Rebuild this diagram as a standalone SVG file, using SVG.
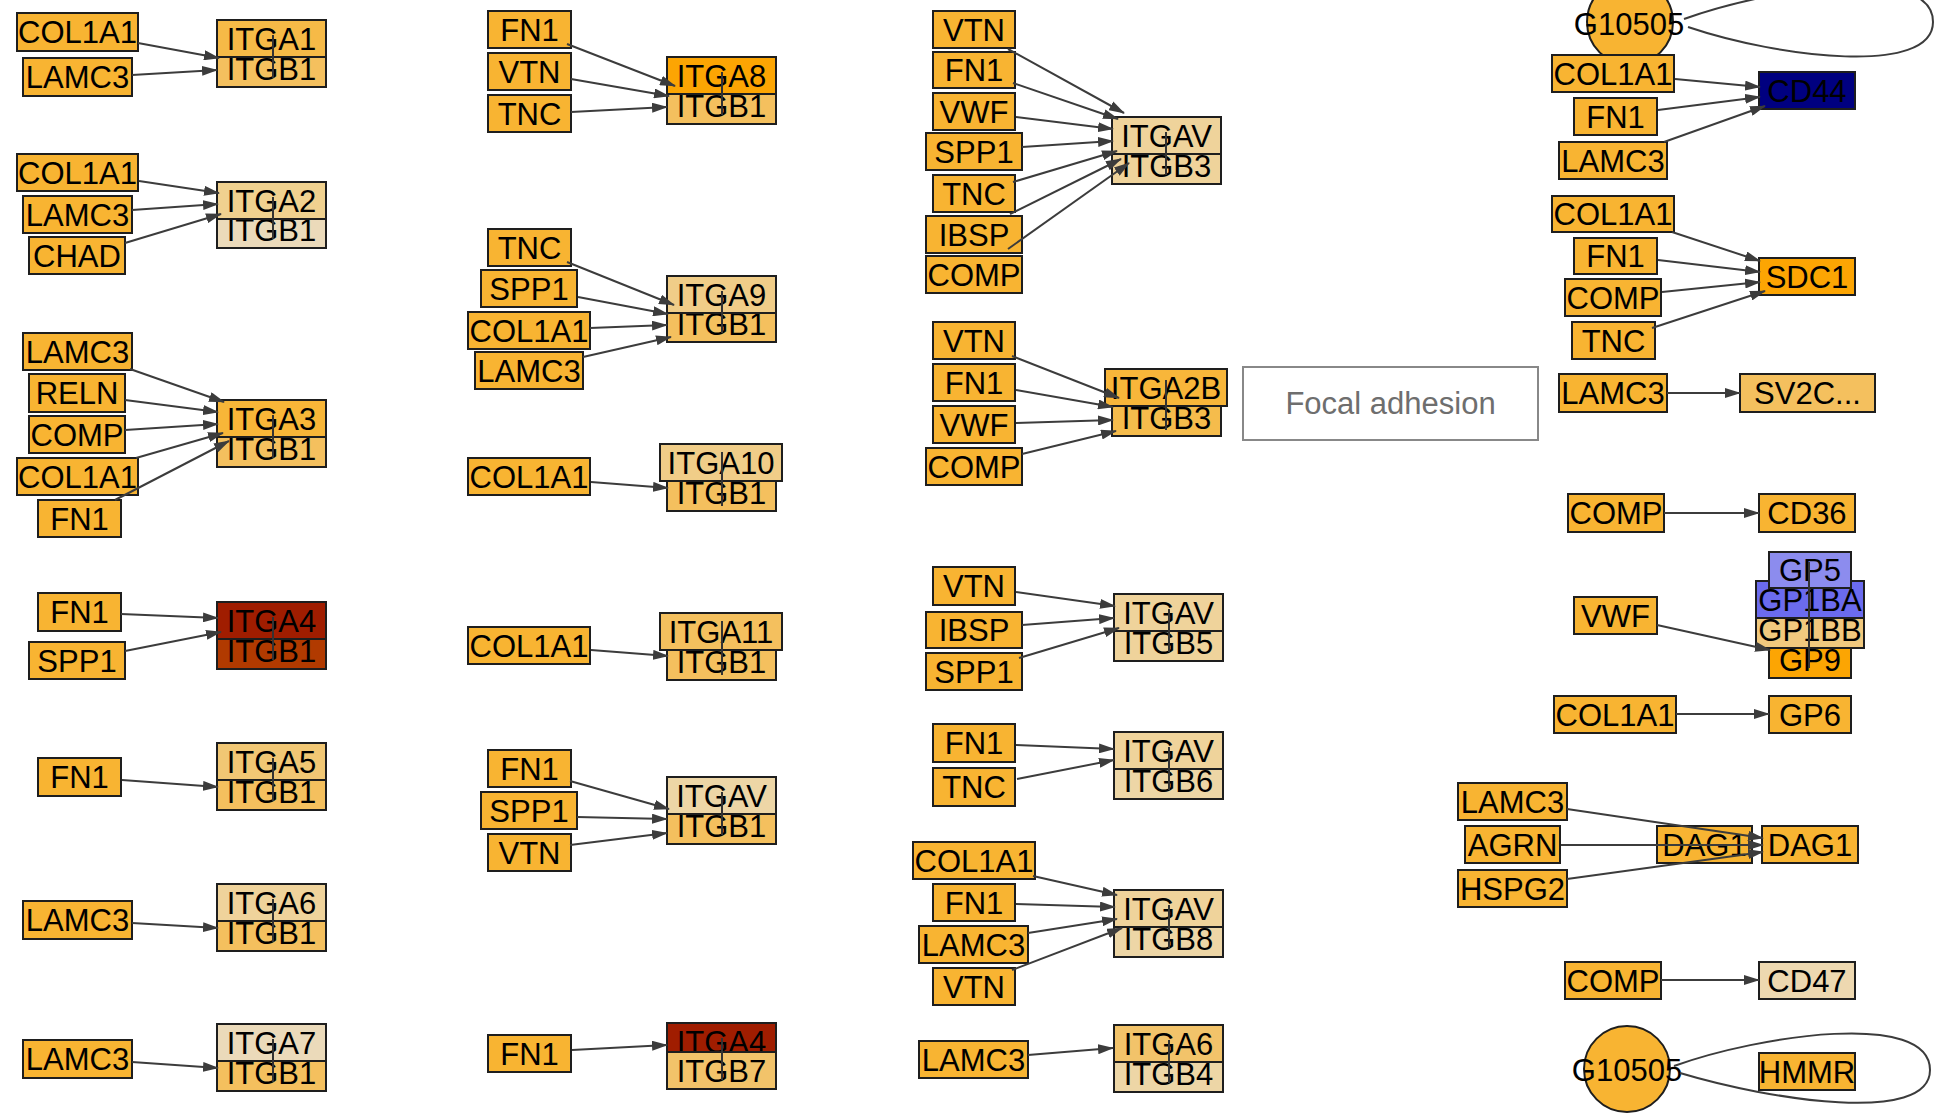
<svg xmlns="http://www.w3.org/2000/svg" width="1940" height="1119" viewBox="0 0 1940 1119">
<style>
.n rect{stroke:#1e1e1e;stroke-width:2}
text{font-family:"Liberation Sans",Arial,sans-serif;font-size:31px;text-anchor:middle;fill:#000}
.s{fill:#F8B432}.o{fill:#FCA503}.l1{fill:#F4C05E}.l2{fill:#F0CD88}.l3{fill:#EFD39B}.l4{fill:#EDD6A6}.l5{fill:#EBDABA}
.e path,.e line{stroke:#3c3c3c;stroke-width:2;fill:none}
.e line.a{marker-end:url(#ah)}
.in line{stroke:#333;stroke-width:2}
</style>
<defs>
<marker id="ah" markerUnits="userSpaceOnUse" markerWidth="16" markerHeight="10" refX="15" refY="5" orient="auto"><path d="M0,0 L16,5 L0,10 z" fill="#3c3c3c"/></marker>
</defs>
<rect width="1940" height="1119" fill="#fff"/>

<g class="n">
<!-- Column 1 -->
<g id="g1-COL1A1"><rect class="s" x="17" y="13" width="121" height="38"/><text x="77.5" y="43">COL1A1</text></g>
<g id="g1-LAMC3"><rect class="s" x="23" y="58" width="109" height="38"/><text x="77.5" y="88">LAMC3</text></g>
<g id="g1-ITGA1-ITGB1"><rect class="l1" x="217" y="50" width="109" height="37"/><text x="271.5" y="80">ITGB1</text><rect style="fill:#F6BA47" x="217" y="20" width="109" height="37"/><text x="271.5" y="49.5">ITGA1</text></g>

<g id="g2-COL1A1"><rect class="s" x="17" y="154" width="121" height="37"/><text x="77.5" y="183.5">COL1A1</text></g>
<g id="g2-LAMC3"><rect class="s" x="23" y="196" width="109" height="37"/><text x="77.5" y="225.5">LAMC3</text></g>
<g id="g2-CHAD"><rect class="s" x="29" y="237" width="96" height="37"/><text x="77" y="266.5">CHAD</text></g>
<g id="g2-ITGA2-ITGB1"><rect class="l5" x="217" y="211" width="109" height="37"/><text x="271.5" y="241">ITGB1</text><rect style="fill:#F0D18F" x="217" y="182" width="109" height="37"/><text x="271.5" y="211.5">ITGA2</text></g>

<g id="g3-LAMC3"><rect class="s" x="23" y="333" width="109" height="37"/><text x="77.5" y="362.5">LAMC3</text></g>
<g id="g3-RELN"><rect class="s" x="29" y="374" width="96" height="38"/><text x="77" y="404">RELN</text></g>
<g id="g3-COMP"><rect class="s" x="29" y="416" width="96" height="37"/><text x="77" y="445.5">COMP</text></g>
<g id="g3-COL1A1"><rect class="s" x="17" y="458" width="121" height="37"/><text x="77.5" y="487.5">COL1A1</text></g>
<g id="g3-FN1"><rect class="s" x="38" y="500" width="83" height="37"/><text x="79.5" y="529.5">FN1</text></g>
<g id="g3-ITGA3-ITGB1"><rect class="l1" x="217" y="430" width="109" height="37"/><text x="271.5" y="460">ITGB1</text><rect style="fill:#F8B638" x="217" y="400" width="109" height="37"/><text x="271.5" y="429.5">ITGA3</text></g>

<g id="g4-FN1"><rect class="s" x="38" y="593" width="83" height="38"/><text x="79.5" y="623">FN1</text></g>
<g id="g4-SPP1"><rect class="s" x="29" y="642" width="96" height="37"/><text x="77" y="671.5">SPP1</text></g>
<g id="g4-ITGA4-ITGB1"><rect style="fill:#B13A00" x="217" y="632" width="109" height="37"/><text x="271.5" y="662">ITGB1</text><rect style="fill:#A01D00" x="217" y="602" width="109" height="37"/><text x="271.5" y="631.5">ITGA4</text></g>

<g id="g5-FN1"><rect class="s" x="38" y="758" width="83" height="38"/><text x="79.5" y="788">FN1</text></g>
<g id="g5-ITGA5-ITGB1"><rect class="l1" x="217" y="773" width="109" height="37"/><text x="271.5" y="803">ITGB1</text><rect style="fill:#F1C774" x="217" y="743" width="109" height="37"/><text x="271.5" y="772.5">ITGA5</text></g>

<g id="g6-LAMC3"><rect class="s" x="23" y="901" width="109" height="38"/><text x="77.5" y="931">LAMC3</text></g>
<g id="g6-ITGA6-ITGB1"><rect class="l1" x="217" y="914" width="109" height="37"/><text x="271.5" y="944">ITGB1</text><rect class="l3" x="217" y="884" width="109" height="37"/><text x="271.5" y="913.5">ITGA6</text></g>

<g id="g7-LAMC3"><rect class="s" x="23" y="1040" width="109" height="38"/><text x="77.5" y="1070">LAMC3</text></g>
<g id="g7-ITGA7-ITGB1"><rect class="l1" x="217" y="1054" width="109" height="37"/><text x="271.5" y="1084">ITGB1</text><rect class="l5" x="217" y="1024" width="109" height="37"/><text x="271.5" y="1053.5">ITGA7</text></g>

<!-- Column 2 -->
<g id="g8-FN1"><rect class="s" x="488" y="11" width="83" height="37"/><text x="529.5" y="40.5">FN1</text></g>
<g id="g8-VTN"><rect class="s" x="488" y="53" width="83" height="37"/><text x="529.5" y="82.5">VTN</text></g>
<g id="g8-TNC"><rect class="s" x="488" y="95" width="83" height="37"/><text x="529.5" y="124.5">TNC</text></g>
<g id="g8-ITGA8-ITGB1"><rect class="l1" x="667" y="87" width="109" height="37"/><text x="721.5" y="117">ITGB1</text><rect class="o" x="667" y="57" width="109" height="37"/><text x="721.5" y="86.5">ITGA8</text></g>

<g id="g9-TNC"><rect class="s" x="488" y="229" width="83" height="37"/><text x="529.5" y="258.5">TNC</text></g>
<g id="g9-SPP1"><rect class="s" x="481" y="270" width="96" height="37"/><text x="529" y="299.5">SPP1</text></g>
<g id="g9-COL1A1"><rect class="s" x="468" y="312" width="122" height="37"/><text x="529" y="341.5">COL1A1</text></g>
<g id="g9-LAMC3"><rect class="s" x="475" y="352" width="108" height="37"/><text x="529" y="381.5">LAMC3</text></g>
<g id="g9-ITGA9-ITGB1"><rect class="l1" x="667" y="305" width="109" height="37"/><text x="721.5" y="335">ITGB1</text><rect class="l2" x="667" y="276" width="109" height="37"/><text x="721.5" y="305.5">ITGA9</text></g>

<g id="g10-COL1A1"><rect class="s" x="468" y="458" width="122" height="37"/><text x="529" y="487.5">COL1A1</text></g>
<g id="g10-ITGA10-ITGB1"><rect class="l1" x="667" y="474" width="109" height="37"/><text x="721.5" y="504">ITGB1</text><rect class="l2" x="660" y="444" width="122" height="37"/><text x="721" y="473.5">ITGA10</text></g>

<g id="g11-COL1A1"><rect class="s" x="468" y="627" width="122" height="37"/><text x="529" y="656.5">COL1A1</text></g>
<g id="g11-ITGA11-ITGB1"><rect class="l1" x="667" y="643" width="109" height="37"/><text x="721.5" y="673">ITGB1</text><rect class="l1" x="660" y="613" width="122" height="37"/><text x="721" y="642.5">ITGA11</text></g>

<g id="g12-FN1"><rect class="s" x="488" y="750" width="83" height="37"/><text x="529.5" y="779.5">FN1</text></g>
<g id="g12-SPP1"><rect class="s" x="481" y="792" width="96" height="37"/><text x="529" y="821.5">SPP1</text></g>
<g id="g12-VTN"><rect class="s" x="488" y="834" width="83" height="37"/><text x="529.5" y="863.5">VTN</text></g>
<g id="g12-ITGAV-ITGB1"><rect class="l1" x="667" y="807" width="109" height="37"/><text x="721.5" y="837">ITGB1</text><rect class="l4" x="667" y="777" width="109" height="37"/><text x="721.5" y="806.5">ITGAV</text></g>

<g id="g13-FN1"><rect class="s" x="488" y="1035" width="83" height="37"/><text x="529.5" y="1064.5">FN1</text></g>
<g id="g13-ITGA4-ITGB7"><rect style="fill:#A01D00" x="667" y="1023" width="109" height="37"/><text x="721.5" y="1052.5">ITGA4</text><rect style="fill:#F2C36A" x="667" y="1052" width="109" height="37"/><text x="721.5" y="1082">ITGB7</text></g>

<!-- Column 3 -->
<g id="g14-VTN"><rect class="s" x="933" y="11" width="82" height="37"/><text x="974" y="40.5">VTN</text></g>
<g id="g14-FN1"><rect class="s" x="933" y="52" width="82" height="36"/><text x="974" y="81">FN1</text></g>
<g id="g14-VWF"><rect class="s" x="933" y="93" width="82" height="37"/><text x="974" y="122.5">VWF</text></g>
<g id="g14-SPP1"><rect class="s" x="926" y="133" width="96" height="37"/><text x="974" y="162.5">SPP1</text></g>
<g id="g14-TNC"><rect class="s" x="933" y="175" width="82" height="37"/><text x="974" y="204.5">TNC</text></g>
<g id="g14-IBSP"><rect class="s" x="926" y="216" width="96" height="37"/><text x="974" y="245.5">IBSP</text></g>
<g id="g14-COMP"><rect class="s" x="926" y="256" width="96" height="37"/><text x="974" y="285.5">COMP</text></g>
<g id="g14-ITGAV-ITGB3"><rect class="l3" x="1112" y="147" width="109" height="37"/><text x="1166.5" y="177">ITGB3</text><rect class="l3" x="1112" y="117" width="109" height="37"/><text x="1166.5" y="146.5">ITGAV</text></g>

<g id="g15-VTN"><rect class="s" x="933" y="322" width="82" height="37"/><text x="974" y="351.5">VTN</text></g>
<g id="g15-FN1"><rect class="s" x="933" y="364" width="82" height="37"/><text x="974" y="393.5">FN1</text></g>
<g id="g15-VWF"><rect class="s" x="933" y="406" width="82" height="37"/><text x="974" y="435.5">VWF</text></g>
<g id="g15-COMP"><rect class="s" x="926" y="448" width="96" height="37"/><text x="974" y="477.5">COMP</text></g>
<g id="g15-ITGA2B-ITGB3"><rect style="fill:#F5BC4C" x="1112" y="399" width="109" height="37"/><text x="1166.5" y="429">ITGB3</text><rect style="fill:#F8B63A" x="1105" y="369" width="122" height="37"/><text x="1166" y="398.5">ITGA2B</text></g>

<g id="g16-VTN"><rect class="s" x="933" y="567" width="82" height="38"/><text x="974" y="597">VTN</text></g>
<g id="g16-IBSP"><rect class="s" x="926" y="612" width="96" height="36"/><text x="974" y="641">IBSP</text></g>
<g id="g16-SPP1"><rect class="s" x="926" y="653" width="96" height="37"/><text x="974" y="682.5">SPP1</text></g>
<g id="g16-ITGAV-ITGB5"><rect class="l3" x="1114" y="624" width="109" height="37"/><text x="1168.5" y="654">ITGB5</text><rect class="l3" x="1114" y="594" width="109" height="37"/><text x="1168.5" y="623.5">ITGAV</text></g>

<g id="g17-FN1"><rect class="s" x="933" y="724" width="82" height="38"/><text x="974" y="754">FN1</text></g>
<g id="g17-TNC"><rect class="s" x="933" y="768" width="82" height="38"/><text x="974" y="798">TNC</text></g>
<g id="g17-ITGAV-ITGB6"><rect class="l4" x="1114" y="762" width="109" height="37"/><text x="1168.5" y="792">ITGB6</text><rect class="l3" x="1114" y="732" width="109" height="37"/><text x="1168.5" y="761.5">ITGAV</text></g>

<g id="g18-COL1A1"><rect class="s" x="913" y="842" width="122" height="37"/><text x="974" y="871.5">COL1A1</text></g>
<g id="g18-FN1"><rect class="s" x="933" y="884" width="82" height="37"/><text x="974" y="913.5">FN1</text></g>
<g id="g18-LAMC3"><rect class="s" x="919" y="926" width="109" height="37"/><text x="973.5" y="955.5">LAMC3</text></g>
<g id="g18-VTN"><rect class="s" x="933" y="968" width="82" height="37"/><text x="974" y="997.5">VTN</text></g>
<g id="g18-ITGAV-ITGB8"><rect class="l4" x="1114" y="920" width="109" height="37"/><text x="1168.5" y="950">ITGB8</text><rect class="l3" x="1114" y="890" width="109" height="37"/><text x="1168.5" y="919.5">ITGAV</text></g>

<g id="g19-LAMC3"><rect class="s" x="919" y="1041" width="109" height="37"/><text x="973.5" y="1070.5">LAMC3</text></g>
<g id="g19-ITGA6-ITGB4"><rect class="l4" x="1114" y="1055" width="109" height="37"/><text x="1168.5" y="1085">ITGB4</text><rect style="fill:#F2C36A" x="1114" y="1025" width="109" height="37"/><text x="1168.5" y="1054.5">ITGA6</text></g>

<!-- Column 4 -->
<g id="G10505-top"><circle cx="1630" cy="22" r="43" fill="#F8B432" stroke="#1e1e1e" stroke-width="2"/><text x="1629" y="35">G10505</text></g>
<g id="g20-COL1A1"><rect class="s" x="1552" y="55" width="122" height="37"/><text x="1613" y="84.5">COL1A1</text></g>
<g id="g20-FN1"><rect class="s" x="1574" y="98" width="83" height="37"/><text x="1615.5" y="127.5">FN1</text></g>
<g id="g20-LAMC3"><rect class="s" x="1559" y="142" width="108" height="37"/><text x="1613" y="171.5">LAMC3</text></g>
<g id="g20-CD44"><rect style="fill:#000080" x="1759" y="72" width="96" height="37"/><text x="1807" y="101.5">CD44</text></g>

<g id="g21-COL1A1"><rect class="s" x="1552" y="196" width="122" height="36"/><text x="1613" y="225">COL1A1</text></g>
<g id="g21-FN1"><rect class="s" x="1574" y="238" width="83" height="36"/><text x="1615.5" y="267">FN1</text></g>
<g id="g21-COMP"><rect class="s" x="1565" y="279" width="96" height="37"/><text x="1613" y="308.5">COMP</text></g>
<g id="g21-TNC"><rect class="s" x="1572" y="322" width="83" height="37"/><text x="1613.5" y="351.5">TNC</text></g>
<g id="g21-SDC1"><rect class="o" x="1759" y="258" width="96" height="37"/><text x="1807" y="287.5">SDC1</text></g>

<g id="g22-LAMC3"><rect class="s" x="1559" y="374" width="108" height="38"/><text x="1613" y="404">LAMC3</text></g>
<g id="g22-SV2C"><rect class="l1" x="1740" y="374" width="135" height="38"/><text x="1807.5" y="404">SV2C...</text></g>

<g id="g23-COMP"><rect class="s" x="1568" y="494" width="96" height="38"/><text x="1616" y="524">COMP</text></g>
<g id="g23-CD36"><rect class="s" x="1759" y="494" width="96" height="38"/><text x="1807" y="524">CD36</text></g>

<g id="g24-VWF"><rect class="s" x="1574" y="597" width="83" height="37"/><text x="1615.5" y="626.5">VWF</text></g>
<g id="g24-GP-complex">
<rect class="o" x="1769" y="641" width="82" height="37"/><text x="1810" y="671">GP9</text>
<rect style="fill:#F1C97E" x="1756" y="611" width="108" height="37"/><text x="1810" y="640.5">GP1BB</text>
<rect style="fill:#6B6BEE" x="1756" y="581" width="108" height="37"/><text x="1810" y="610.5">GP1BA</text>
<rect style="fill:#8C8CEE" x="1769" y="552" width="82" height="36"/><text x="1810" y="581">GP5</text>
</g>

<g id="g25-COL1A1"><rect class="s" x="1554" y="696" width="122" height="37"/><text x="1615" y="725.5">COL1A1</text></g>
<g id="g25-GP6"><rect class="s" x="1769" y="696" width="82" height="37"/><text x="1810" y="725.5">GP6</text></g>

<g id="g26-LAMC3"><rect class="s" x="1458" y="783" width="109" height="37"/><text x="1512.5" y="812.5">LAMC3</text></g>
<g id="g26-AGRN"><rect class="s" x="1465" y="826" width="95" height="37"/><text x="1512.5" y="855.5">AGRN</text></g>
<g id="g26-HSPG2"><rect class="s" x="1458" y="870" width="109" height="37"/><text x="1512.5" y="899.5">HSPG2</text></g>
<g id="g26-DAG1-a"><rect class="s" x="1657" y="826" width="95" height="37"/><text x="1704.5" y="855.5">DAG1</text></g>
<g id="g26-DAG1-b"><rect class="s" x="1762" y="826" width="96" height="37"/><text x="1810" y="855.5">DAG1</text></g>

<g id="g27-COMP"><rect class="s" x="1565" y="962" width="96" height="37"/><text x="1613" y="991.5">COMP</text></g>
<g id="g27-CD47"><rect style="fill:#EDD8B0" x="1759" y="962" width="96" height="37"/><text x="1807" y="991.5">CD47</text></g>

<g id="G10505-bottom"><circle cx="1627" cy="1069" r="43" fill="#F8B432" stroke="#1e1e1e" stroke-width="2"/><text x="1627" y="1081">G10505</text></g>
<g id="g28-HMMR"><rect class="s" x="1759" y="1053" width="96" height="37"/><text x="1807" y="1082.5">HMMR</text></g>
</g>

<g id="focal-adhesion"><rect x="1243" y="367" width="295" height="73" fill="#fff" stroke="#888" stroke-width="2"/><text x="1390.5" y="414" style="fill:#6e6e6e">Focal adhesion</text></g>

<!-- internal complex links -->
<g class="in" id="complex-links">
<line x1="273" y1="35" x2="273" y2="78"/>
<line x1="273" y1="197" x2="273" y2="239"/>
<line x1="273" y1="415" x2="273" y2="458"/>
<line x1="273" y1="617" x2="273" y2="660"/>
<line x1="273" y1="758" x2="273" y2="801"/>
<line x1="273" y1="899" x2="273" y2="942"/>
<line x1="273" y1="1039" x2="273" y2="1082"/>
<line x1="722" y1="72" x2="722" y2="115"/>
<line x1="722" y1="291" x2="722" y2="333"/>
<line x1="722" y1="452" x2="722" y2="506"/>
<line x1="722" y1="621" x2="722" y2="675"/>
<line x1="722" y1="792" x2="722" y2="835"/>
<line x1="722" y1="1038" x2="722" y2="1080"/>
<line x1="1166" y1="132" x2="1166" y2="175"/>
<line x1="1166" y1="380" x2="1166" y2="430"/>
<line x1="1169" y1="609" x2="1169" y2="652"/>
<line x1="1169" y1="747" x2="1169" y2="790"/>
<line x1="1169" y1="905" x2="1169" y2="948"/>
<line x1="1169" y1="1040" x2="1169" y2="1083"/>
<line x1="1809" y1="562" x2="1809" y2="668"/>
</g>

<!-- connectors -->
<g class="e" id="connectors">
<line class="a" x1="138" y1="43" x2="219" y2="58"/>
<line class="a" x1="132" y1="75" x2="217" y2="70"/>
<line class="a" x1="139" y1="181" x2="219" y2="193"/>
<line class="a" x1="132" y1="210" x2="218" y2="204"/>
<line class="a" x1="125" y1="243" x2="221" y2="214"/>
<line class="a" x1="130" y1="369" x2="224" y2="402"/>
<line class="a" x1="125" y1="400" x2="218" y2="412"/>
<line class="a" x1="125" y1="430" x2="218" y2="424"/>
<line class="a" x1="136" y1="458" x2="223" y2="433"/>
<line class="a" x1="115" y1="500" x2="229" y2="441"/>
<line class="a" x1="121" y1="614" x2="218" y2="618"/>
<line class="a" x1="125" y1="651" x2="221" y2="632"/>
<line class="a" x1="122" y1="780" x2="218" y2="787"/>
<line class="a" x1="132" y1="923" x2="218" y2="928"/>
<line class="a" x1="132" y1="1062" x2="218" y2="1068"/>

<line class="a" x1="567" y1="44" x2="675" y2="86"/>
<line class="a" x1="571" y1="79" x2="669" y2="96"/>
<line class="a" x1="571" y1="112" x2="667" y2="107"/>
<line class="a" x1="567" y1="262" x2="674" y2="305"/>
<line class="a" x1="578" y1="297" x2="668" y2="314"/>
<line class="a" x1="590" y1="328" x2="667" y2="325"/>
<line class="a" x1="583" y1="357" x2="671" y2="337"/>
<line class="a" x1="591" y1="482" x2="668" y2="488"/>
<line class="a" x1="591" y1="650" x2="668" y2="656"/>
<line class="a" x1="570" y1="781" x2="669" y2="809"/>
<line class="a" x1="577" y1="817" x2="667" y2="819"/>
<line class="a" x1="570" y1="845" x2="667" y2="833"/>
<line class="a" x1="572" y1="1050" x2="667" y2="1045"/>

<line class="a" x1="1008" y1="49" x2="1124" y2="113"/>
<line class="a" x1="1013" y1="83" x2="1118" y2="119"/>
<line class="a" x1="1016" y1="117" x2="1113" y2="129"/>
<line class="a" x1="1022" y1="147" x2="1113" y2="141"/>
<line class="a" x1="1013" y1="182" x2="1117" y2="151"/>
<line class="a" x1="1010" y1="214" x2="1121" y2="159"/>
<line class="a" x1="1008" y1="249" x2="1129" y2="163"/>
<line class="a" x1="1012" y1="356" x2="1119" y2="398"/>
<line class="a" x1="1016" y1="390" x2="1113" y2="407"/>
<line class="a" x1="1016" y1="423" x2="1113" y2="420"/>
<line class="a" x1="1022" y1="454" x2="1116" y2="431"/>
<line class="a" x1="1016" y1="592" x2="1115" y2="606"/>
<line class="a" x1="1022" y1="625" x2="1114" y2="618"/>
<line class="a" x1="1019" y1="658" x2="1119" y2="628"/>
<line class="a" x1="1016" y1="745" x2="1114" y2="749"/>
<line class="a" x1="1017" y1="779" x2="1114" y2="760"/>
<line class="a" x1="1033" y1="876" x2="1117" y2="895"/>
<line class="a" x1="1016" y1="904" x2="1115" y2="907"/>
<line class="a" x1="1028" y1="933" x2="1117" y2="919"/>
<line class="a" x1="1012" y1="970" x2="1122" y2="928"/>
<line class="a" x1="1028" y1="1055" x2="1113" y2="1048"/>

<path d="M1684,19 C1770,-12 1933,-37 1933,22 C1933,76 1780,58 1688,27"/>
<line class="a" x1="1675" y1="79" x2="1760" y2="87"/>
<line class="a" x1="1658" y1="110" x2="1760" y2="97"/>
<line class="a" x1="1664" y1="142" x2="1765" y2="106"/>
<line class="a" x1="1672" y1="232" x2="1760" y2="261"/>
<line class="a" x1="1658" y1="260" x2="1760" y2="272"/>
<line class="a" x1="1662" y1="292" x2="1760" y2="282"/>
<line class="a" x1="1652" y1="328" x2="1765" y2="291"/>
<line class="a" x1="1667" y1="393" x2="1740" y2="393"/>
<line class="a" x1="1664" y1="513" x2="1759" y2="513"/>
<line class="a" x1="1657" y1="625" x2="1770" y2="650"/>
<line class="a" x1="1676" y1="714" x2="1769" y2="714"/>
<line class="a" x1="1567" y1="809" x2="1763" y2="838"/>
<line class="a" x1="1561" y1="845" x2="1763" y2="845"/>
<line class="a" x1="1567" y1="879" x2="1763" y2="852"/>
<line class="a" x1="1661" y1="980" x2="1759" y2="980"/>
<path d="M1674,1066 C1760,1035 1930,1010 1930,1070 C1930,1125 1770,1100 1680,1073"/>
</g>
</svg>
